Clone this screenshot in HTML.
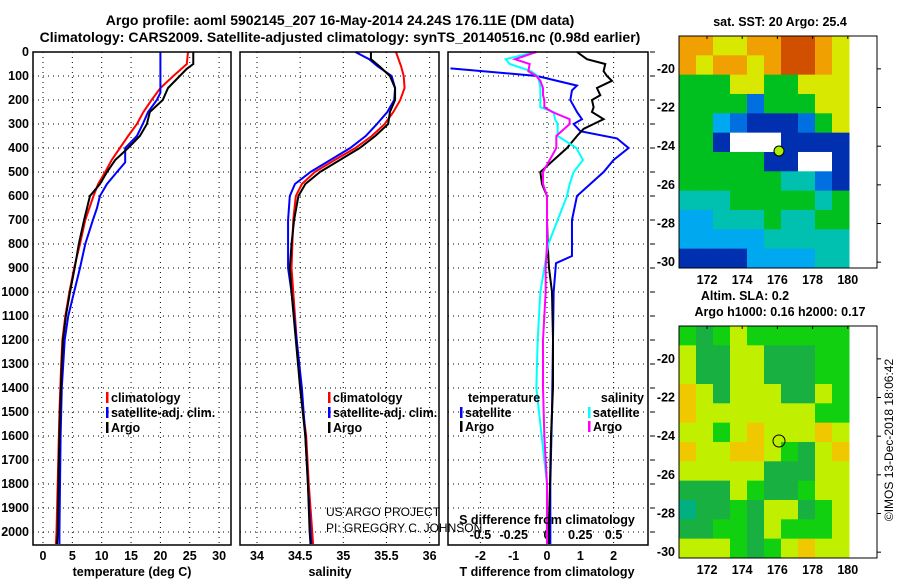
<!DOCTYPE html>
<html><head><meta charset="utf-8"><style>
body{margin:0;background:#fff}
svg{display:block;font-family:"Liberation Sans",sans-serif}
.t{font-weight:bold;font-size:12.5px}
</style></head><body>
<svg id="c" width="900" height="580" viewBox="0 0 900 580">
<text x="340" y="25" text-anchor="middle" class="t" style="font-size:14px">Argo profile: aoml 5902145_207 16-May-2014 24.24S 176.11E (DM data)</text>
<text x="340" y="42" text-anchor="middle" class="t" style="font-size:14px">Climatology: CARS2009. Satellite-adjusted climatology: synTS_20140516.nc (0.98d earlier)</text>
<g id="g"></g>
</svg>
<script>
// ---- data ----
const depthT=[0,50,70,100,150,200,250,300,350,400,450,500,550,600,650,700,800,900,1000,1100,1200,1300,1500,1700,2000,2050];
const tempArgo=[25.6,25.6,24.5,23.3,21.3,20.4,18.2,17.7,16.5,14.5,12.3,10.9,9.7,8.0,7.5,7.0,6.1,5.4,4.6,3.9,3.4,3.2,2.9,2.7,2.5,2.4];
const tempClim=[24.7,24.5,23.6,22.2,20.0,18.5,17.1,16.0,14.5,13.1,11.7,10.6,9.4,8.6,7.9,7.2,6.3,5.3,4.5,3.8,3.3,3.1,2.8,2.6,2.3,2.2];
const depthTS=[0,165,170,200,250,300,350,400,460,500,550,600,650,700,800,900,1000,1100,1200,1400,1600,1800,2000,2050];
const tempSat=[20.0,20.0,20.0,19.4,17.9,17.0,16.0,14.0,14.0,12.6,10.9,9.7,9.2,8.5,7.2,6.3,5.3,4.3,3.7,3.2,3.0,2.9,2.8,2.8];
const depthS=[0,30,60,100,150,200,250,300,350,400,450,500,550,600,700,800,900,1000,1200,1400,1600,1800,2000,2050];
const salArgo=[35.32,35.32,35.42,35.54,35.60,35.60,35.54,35.52,35.37,35.19,34.96,34.73,34.56,34.48,34.43,34.40,34.38,34.40,34.45,34.50,34.56,34.59,34.61,34.62];
const salClim=[35.61,35.64,35.67,35.70,35.71,35.66,35.58,35.48,35.33,35.14,34.90,34.67,34.52,34.45,34.42,34.41,34.40,34.42,34.46,34.50,34.57,34.60,34.64,34.65];
const salSat=[35.14,35.30,35.40,35.56,35.60,35.59,35.51,35.39,35.26,35.08,34.85,34.62,34.44,34.38,34.36,34.36,34.36,34.40,34.46,34.52,34.56,34.59,34.62,34.63];
const depthD=[0,30,50,80,100,120,150,180,200,230,250,280,300,320,350,400,450,500,550,600,700,800,900,1000,1200,1400,1600,1800,2000,2050];
const dTArgo=[0.9,1.2,1.75,1.7,1.8,1.95,1.5,1.6,1.35,1.4,1.35,1.7,1.4,1.1,0.9,0.6,0.2,-0.2,-0.15,0,0,0.02,0.06,0.15,0.18,0.18,0.12,0.09,0.05,0.05];
const depthDS=[68,100,140,160,200,250,280,300,330,360,400,450,500,550,600,700,800,850,880,1000,1200,1500,1800,2000,2050];
const dTSat=[-2.9,-0.3,0.9,0.75,0.7,0.9,1.05,0.8,1.0,2.1,2.45,2.0,1.7,1.3,0.9,0.75,0.75,0.75,0.27,0.2,0.18,0.15,0.1,0.1,0.1];
const dSArgo=[-0.08,-0.24,-0.13,-0.14,-0.08,-0.05,-0.03,-0.03,-0.02,-0.02,0.04,0.17,0.17,0.13,0.07,0.07,0.02,-0.03,-0.03,0,0,0,-0.01,-0.01,-0.03,-0.03,-0.02,0,0,0];
const dSSat=[-0.09,-0.31,-0.28,-0.12,-0.07,-0.06,-0.05,-0.05,-0.05,-0.05,0.05,0.06,0.08,0.08,0.08,0.22,0.27,0.2,0.17,0.15,0.08,0.01,-0.02,-0.05,-0.07,-0.08,-0.04,0,0,0];
const depthTicks=[0,100,200,300,400,500,600,700,800,900,1000,1100,1200,1300,1400,1500,1600,1700,1800,1900,2000];
const tempTicks=[0,5,10,15,20,25,30];
const salTicks=[34,34.5,35,35.5,36];
const dTTicks=[-2,-1,0,1,2];
const dSTicks=[-0.5,-0.25,0,0.25,0.5];
const latTicks=[-20,-22,-24,-26,-28,-30];
const lonTicks=[172,174,176,178,180];
const sstGrid=["OOYYOORROY","OYOOYORROY","GGGYYGGYYY","GGGGBGGGYY","GGLBDDDBGY","GGDWWWDDDD","GGGGGDDWWD","GGGGGGCCBD","CCCGGGGGCG","LLCCCGCCGG","LLLLLCCCCC","DDDDLLLLCC"];
const slaGrid=["GKGYGGGGGG","YKKYYKKKGG","YKKYYKKKGG","OYKYYYKKYG","OYYYYYYYGG","YYGYOYYYOY","OYYOOYGKYO","YYYYYKKKYY","KKKYGKKGYY","TKKGKYYKGY","KKGGKYGGGY","YYYGKGYOYY"];
// ---- helpers ----
const NS="http://www.w3.org/2000/svg", G=document.getElementById('g');
function mk(t,a,p){const e=document.createElementNS(NS,t);for(const k in a)e.setAttribute(k,a[k]);(p||G).appendChild(e);return e;}
const yD=d=>52+d*0.24;
const xT=v=>43+v*5.87, xS=v=>257+(v-34)*86.3, xDT=v=>547+v*33.3, xDS=v=>547+v*133.2;
const panels=[[33,231],[240,439],[448,648]];
panels.forEach((p,i)=>{
  depthTicks.forEach(d=>{const l=mk('line',{x1:p[0],x2:p[1],y1:yD(d),y2:yD(d),stroke:'#000','stroke-dasharray':'1 4'});
  });
});
tempTicks.forEach(v=>{const l=mk('line',{x1:xT(v),x2:xT(v),y1:52,y2:545,stroke:'#000','stroke-dasharray':'1 4'});
 const t=mk('text',{x:xT(v),y:560,'text-anchor':'middle',class:'t'});t.textContent=v;});
salTicks.forEach(v=>{const l=mk('line',{x1:xS(v),x2:xS(v),y1:52,y2:545,stroke:'#000','stroke-dasharray':'1 4'});
 const t=mk('text',{x:xS(v),y:560,'text-anchor':'middle',class:'t'});t.textContent=v;});
dTTicks.forEach(v=>{if(v%2===0){const l=mk('line',{x1:xDT(v),x2:xDT(v),y1:52,y2:545,stroke:'#000','stroke-dasharray':'1 4'});}
 const t=mk('text',{x:xDT(v),y:560,'text-anchor':'middle',class:'t'});t.textContent=v;});
dSTicks.forEach(v=>{const t=mk('text',{x:xDS(v),y:539,'text-anchor':'middle',class:'t'});t.textContent=v;});
depthTicks.forEach(d=>{const t=mk('text',{x:29,y:yD(d)+4,'text-anchor':'end',class:'t'});t.textContent=d;
 const k=mk('line',{x1:650,x2:655,y1:yD(d),y2:yD(d),stroke:'#000'});});
function line(xs,ds,f,col,name,w){const pts=xs.map((v,i)=>Math.max(449,Math.min(647,f(v)))+','+yD(ds[i])).join(' ');
 const e=mk('polyline',{points:pts,fill:'none',stroke:col,'stroke-width':w||2});}
function line2(xs,ds,f,col,name){const pts=xs.map((v,i)=>f(v)+','+yD(ds[i])).join(' ');
 const e=mk('polyline',{points:pts,fill:'none',stroke:col,'stroke-width':2});}
line2(tempClim,depthT,xT,'#f00','temp-climatology-line');
line2(tempSat,depthTS,xT,'#00f','temp-satellite-line');
line2(tempArgo,depthT,xT,'#000','temp-argo-line');
line2(salClim,depthS,xS,'#f00','sal-climatology-line');
line2(salSat,depthS,xS,'#00f','sal-satellite-line');
line2(salArgo,depthS,xS,'#000','sal-argo-line');
line(dTSat,depthDS,xDT,'#00f','dt-satellite-line');
line(dTArgo,depthD,xDT,'#000','dt-argo-line');
line(dSSat,depthD,xDS,'#0ff','ds-satellite-line');
line(dSArgo,depthD,xDS,'#f0f','ds-argo-line');
panels.forEach(p=>{const r=mk('rect',{x:p[0],y:52,width:p[1]-p[0],height:493,fill:'none',stroke:'#000','stroke-width':1.5});});
function txt(x,y,s,name,opt){const t=mk('text',Object.assign({x:x,y:y,class:'t'},opt||{}));t.textContent=s;return t;}
function leg(x,y,col,s,name){const b=mk('rect',{x:x,y:y-10,width:2.5,height:11,fill:col});txt(x+5,y,s,name);}
leg(106,402,'#f00','climatology','legend-climatology');leg(106,417,'#00f','satellite-adj. clim.','legend-satellite');leg(106,432,'#000','Argo','legend-argo');
leg(328,402,'#f00','climatology','legend2-climatology');leg(328,417,'#00f','satellite-adj. clim.','legend2-satellite');leg(328,432,'#000','Argo','legend2-argo');
txt(468,402,'temperature','legend3-temperature-header');txt(644,402,'salinity','legend3-salinity-header',{'text-anchor':'end'});
leg(460,417,'#00f','satellite','legend3-t-satellite');leg(460,431,'#000','Argo','legend3-t-argo');
leg(588,417,'#0ff','satellite','legend3-s-satellite');leg(588,431,'#f0f','Argo','legend3-s-argo');
txt(547,524,'S difference from climatology','ds-axis-title',{'text-anchor':'middle'});
txt(132,576,'temperature (deg C)','temp-axis-title',{'text-anchor':'middle'});
txt(330,576,'salinity','sal-axis-title',{'text-anchor':'middle'});
txt(547,576,'T difference from climatology','dt-axis-title',{'text-anchor':'middle'});
const p1=txt(326,516,'US ARGO PROJECT','credit-project');p1.setAttribute('class','');p1.setAttribute('font-size','12');
const p2=txt(326,532,'PI: GREGORY C. JOHNSON','credit-pi');p2.setAttribute('class','');p2.setAttribute('font-size','12');
// maps
const cols={O:'#f0a000',R:'#d05000',Y:'#d8e800',G:'#00c020',B:'#0070e0',D:'#0030b0',W:'#ffffff',C:'#00c0b0',L:'#00a8f0',K:'#10b040',T:'#00b080'};
const cols2={G:'#10d010',K:'#18b040',Y:'#c0f000',O:'#f0c800',T:'#00b080'};
function map(top,grid,pal,name){
 const x0=679,cw=17,rh=19.33;
 grid.forEach((row,r)=>{[...row].forEach((c,i)=>{const e=mk('rect',{x:x0+i*cw,y:top+r*rh,width:cw+0.5,height:rh+0.5,fill:pal[c]});});});
 const f=mk('rect',{x:679,y:top,width:198,height:232,fill:'none',stroke:'#000'});
 const y20=top+1.7*19.33;
 latTicks.forEach(l=>{const y=y20+(-20-l)*19.33;txt(675,y+4,l,name+'-lat-label',{'text-anchor':'end'});
  const k=mk('line',{x1:877,x2:881,y1:y,y2:y,stroke:'#000'});});
 lonTicks.forEach(l=>{const x=707+(l-172)*17.6;txt(x,top+248,l,name+'-lon-label',{'text-anchor':'middle'});
  const k=mk('line',{x1:x,x2:x,y1:top,y2:top+3,stroke:'#000'});});
}
map(36,sstGrid,cols,'sst-map');
map(326,slaGrid,cols2,'sla-map');
const c1=mk('circle',{cx:779,cy:151,r:5,fill:'#a8f000',stroke:'#000'});
const c2=mk('circle',{cx:779,cy:441,r:6,fill:'none',stroke:'#000'});
txt(780,26,'sat. SST: 20 Argo: 25.4','sst-map-title',{'text-anchor':'middle'});
txt(745,300,'Altim. SLA: 0.2','sla-map-title-1',{'text-anchor':'middle'});
txt(780,316,'Argo h1000: 0.16 h2000: 0.17','sla-map-title-2',{'text-anchor':'middle'});
const cr=txt(0,0,'©IMOS 13-Dec-2018 18:06:42','imos-credit',{'text-anchor':'middle',transform:'translate(893,440) rotate(-90)'});cr.setAttribute('class','');cr.setAttribute('font-size','12');
</script>
</body></html>
